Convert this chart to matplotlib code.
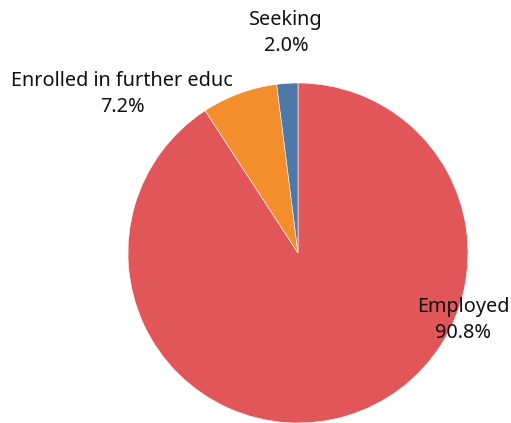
import matplotlib.pyplot as plt

labels = ['Employed', 'Enrolled in further educ', 'Seeking']
shares = [90.8, 7.2, 2.0]
colors = ['#E15759', '#F28E2B', '#4E79A7']

# label anchor points in pixel coordinates (x, y from top)
label_pos = [(463, 320), (122, 94), (286, 33)]

W, H = 511, 423
fig = plt.figure(figsize=(W / 100, H / 100), dpi=100)
ax = fig.add_axes([0, 0, 1, 1])
ax.pie(shares, colors=colors, startangle=90, counterclock=False,
       center=(298, H - 253), radius=170,
       wedgeprops=dict(linewidth=0.4, edgecolor='white'))
ax.set_xlim(0, W)
ax.set_ylim(0, H)
ax.set_aspect('equal')
ax.axis('off')

for lab, val, (x, y) in zip(labels, shares, label_pos):
    ax.text(x, H - y, f'{lab}\n{val:.1f}%', ha='center', va='center',
            fontsize=14.3, family='Noto Sans', color='#111111', linespacing=1.35)

fig.savefig('out.png', dpi=100)
